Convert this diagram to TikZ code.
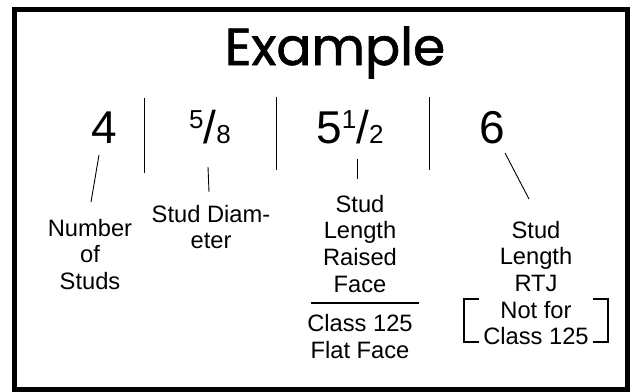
\documentclass[tikz,border=0pt]{standalone}
\usepackage{fontspec}
\setmainfont{Liberation Sans}
\newfontfamily\titlefont[FakeBold=1.2]{Poppins}
\usepackage{tikz}
\usetikzlibrary{positioning}
\newcommand{\smalldig}[1]{{\fontsize{26}{26}\selectfont #1}}
\newcommand{\studfrac}[2]{\raisebox{14.4pt}{\smalldig{#1}}/\smalldig{#2}}

\begin{document}
\begin{tikzpicture}[x=1pt,y=-1pt,
    every node/.style={inner sep=0pt,anchor=base},
    bignum/.style={font=\fontsize{46}{46}\selectfont},
    lab/.style={font=\fontsize{23.7}{26.7}\selectfont,align=center},
    sep/.style={line width=1pt},
    lead/.style={line width=0.9pt},
    brk/.style={line width=1.6pt}]
  \useasboundingbox (0,0) rectangle (634,391);
  \draw[line width=4.8pt] (14.5,9.7) rectangle (627.5,389.5);
  \node[font=\titlefont\fontsize{52}{52}\selectfont] (title) at (335,65) {Example};
  \node[bignum] (num4) at (104,143) {4};
  \node[bignum] (num58) at (210,143) {\studfrac{5}{8}};
  \node[bignum] (num512) at (350,143) {5\studfrac{1}{2}};
  \node[bignum] (num6) at (492,143) {6};
  \draw[sep] (144,98) -- (144,173);
  \draw[sep] (276,97) -- (276,170);
  \draw[sep] (429,97) -- (429,170);
  \node[lab] (count) at (90,289.4) {Number\\of\\Studs};
  \node[lab] (diam) at (211,248.7) {Stud Diam-\\eter};
  \node[lab] (lenrf) at (360,292.1) {Stud\\Length\\Raised\\Face};
  \node[lab] (lenff) at (360,358.5) {Class 125\\Flat Face};
  \node[lab] (lenrtj) at (536,344.8) {Stud\\Length\\RTJ\\Not for\\Class 125};
  \coordinate (c4a) at (99,155);   \coordinate (c4b) at (91,202);
  \coordinate (c58a) at (208,167); \coordinate (c58b) at (209,192);
  \coordinate (c512a) at (357,159); \coordinate (c512b) at (357,179);
  \coordinate (c6a) at (505,153);  \coordinate (c6b) at (529,199);
  \draw[lead] (c4a) -- (c4b);
  \draw[lead] (c58a) -- (c58b);
  \draw[lead] (c512a) -- (c512b);
  \draw[lead] (c6a) -- (c6b);
  \draw[line width=1.2pt] (311,303) -- (419,303);
  \draw[brk] (479,299) -- (464,299) -- (464,342) -- (479,342);
  \draw[brk] (593,299) -- (608,299) -- (608,342) -- (593,342);
\end{tikzpicture}
\end{document}
